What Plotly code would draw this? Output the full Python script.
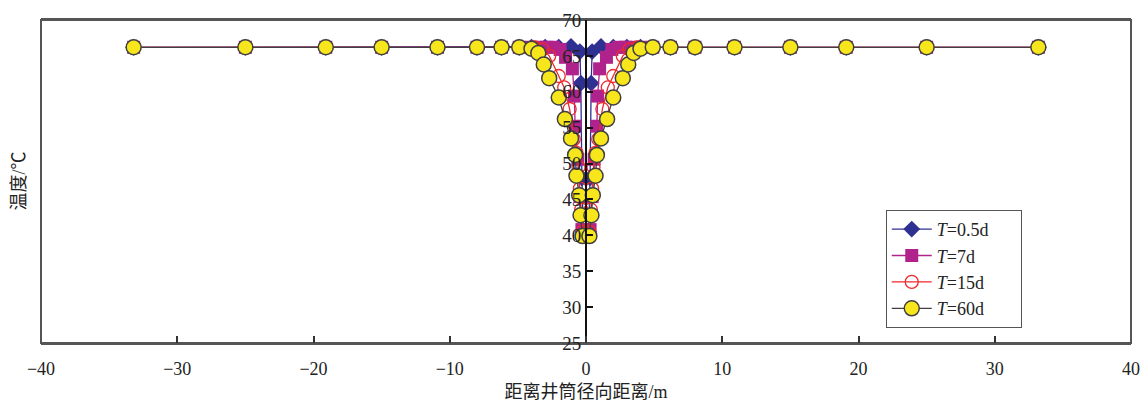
import plotly.graph_objects as go

# Shared far-field radial positions (m) and temperature (°C), right half (mirrored for left)
outer_r = [4.9, 6.2, 8.0, 10.9, 15.0, 19.1, 25.0, 33.2]
outer_t = [66.2, 66.2, 66.2, 66.2, 66.2, 66.2, 66.2, 66.2]

# Near-wellbore points per series (right half)
r_05 = [0.2, 0.3, 0.38, 0.45, 1.1, 2.0, 3.0, 4.0]
t_05 = [40.5, 48.0, 61.2, 65.6, 66.3, 66.2, 66.2, 66.2]

r_7 = [0.3, 0.45, 0.6, 0.8, 0.85, 1.0, 1.5, 1.9, 2.4, 2.9, 3.4, 4.0]
t_7 = [40.8, 45.4, 50.6, 55.2, 59.4, 63.2, 64.8, 65.9, 66.2, 66.2, 66.2, 66.2]

r_15 = [0.25, 0.35, 0.45, 0.55, 0.7, 0.9, 1.2, 1.6, 2.0, 2.7, 3.2, 3.8]
t_15 = [40.5, 43.6, 46.5, 49.5, 51.5, 53.4, 57.6, 60.6, 62.2, 65.0, 65.9, 66.2]

r_60 = [0.25, 0.4, 0.5, 0.7, 0.8, 1.1, 1.55, 2.0, 2.7, 3.1, 3.5, 4.0]
t_60 = [39.9, 42.8, 45.6, 48.3, 51.2, 53.5, 56.2, 59.2, 61.9, 63.8, 65.4, 66.0]

names = ["<i>T</i>=0.5d", "<i>T</i>=7d", "<i>T</i>=15d", "<i>T</i>=60d"]
x_ticks = [-40, -30, -20, -10, 0, 10, 20, 30, 40]
y_ticks = [25, 30, 35, 40, 45, 50, 55, 60, 65, 70]


def mirror(r, t):
    rr = list(r) + list(outer_r)
    tt = list(t) + list(outer_t)
    xs = [-v for v in reversed(rr)] + rr
    ys = list(reversed(tt)) + tt
    return xs, ys


styles = [
    dict(line=dict(color="#2e3192", width=1.3),
         marker=dict(symbol="diamond", size=13, color="#2e3192", line=dict(width=0))),
    dict(line=dict(color="#b0228c", width=1.3),
         marker=dict(symbol="square", size=13, color="#b0228c", line=dict(width=0))),
    dict(line=dict(color="#ee2a2e", width=1.3),
         marker=dict(symbol="circle-open", size=13, color="#ee2a2e", line=dict(width=1.3))),
    dict(line=dict(color="#404040", width=1.3),
         marker=dict(symbol="circle", size=15, color="#f7e61c", line=dict(color="#404040", width=1.5))),
]

fig = go.Figure()
for (r, t), nm, st in zip([(r_05, t_05), (r_7, t_7), (r_15, t_15), (r_60, t_60)], names, styles):
    xs, ys = mirror(r, t)
    fig.add_trace(go.Scatter(x=xs, y=ys, mode="lines+markers",
                             name=nm + "\u00a0" * 6, **st))

serif = "Liberation Serif, Noto Sans CJK SC"

fig.update_layout(
    width=1145, height=404,
    margin=dict(l=41, r=14, t=20, b=61, autoexpand=False),
    plot_bgcolor="white", paper_bgcolor="white",
    font=dict(family=serif, size=17, color="#222"),
    showlegend=True,
    legend=dict(x=0.775, y=0.412, xanchor="left", yanchor="top",
                bordercolor="#555", borderwidth=1, bgcolor="white",
                font=dict(family=serif, size=18, color="#222"),
                tracegroupgap=0, itemwidth=40),
    xaxis=dict(range=[-40, 40], tickvals=x_ticks,
               ticktext=[("−" + str(-v)) if v < 0 else str(v) for v in x_ticks],
               ticks="inside", ticklen=7, tickwidth=1.5, tickcolor="#333",
               showline=True, linecolor="#555", linewidth=2, mirror=True,
               showgrid=False, zeroline=False, automargin=False,
               ticklabelstandoff=8,
               tickfont=dict(family=serif, size=18, color="#222"),
               title=dict(text="距离井筒径向距离/m", standoff=8,
                          font=dict(family=serif, size=18, color="#222"))),
    yaxis=dict(range=[25, 70], tickvals=y_ticks,
               anchor="free", position=0.5, side="left",
               ticks="inside", ticklen=6, tickwidth=1.5, tickcolor="#111",
               showline=True, linecolor="#111", linewidth=2,
               showgrid=False, zeroline=False, automargin=False,
               tickfont=dict(family=serif, size=19, color="#222"),
               title=dict(text="")),
    shapes=[dict(type="rect", xref="paper", yref="paper", x0=0, x1=1, y0=0, y1=1,
                 line=dict(color="#555", width=2), layer="below")],
    annotations=[dict(text="温度/℃", textangle=-90, xref="paper", yref="paper",
                      x=-0.021, y=0.5, xanchor="center", yanchor="middle",
                      showarrow=False, font=dict(family=serif, size=18, color="#222"))],
)

fig.write_html("out.html")
